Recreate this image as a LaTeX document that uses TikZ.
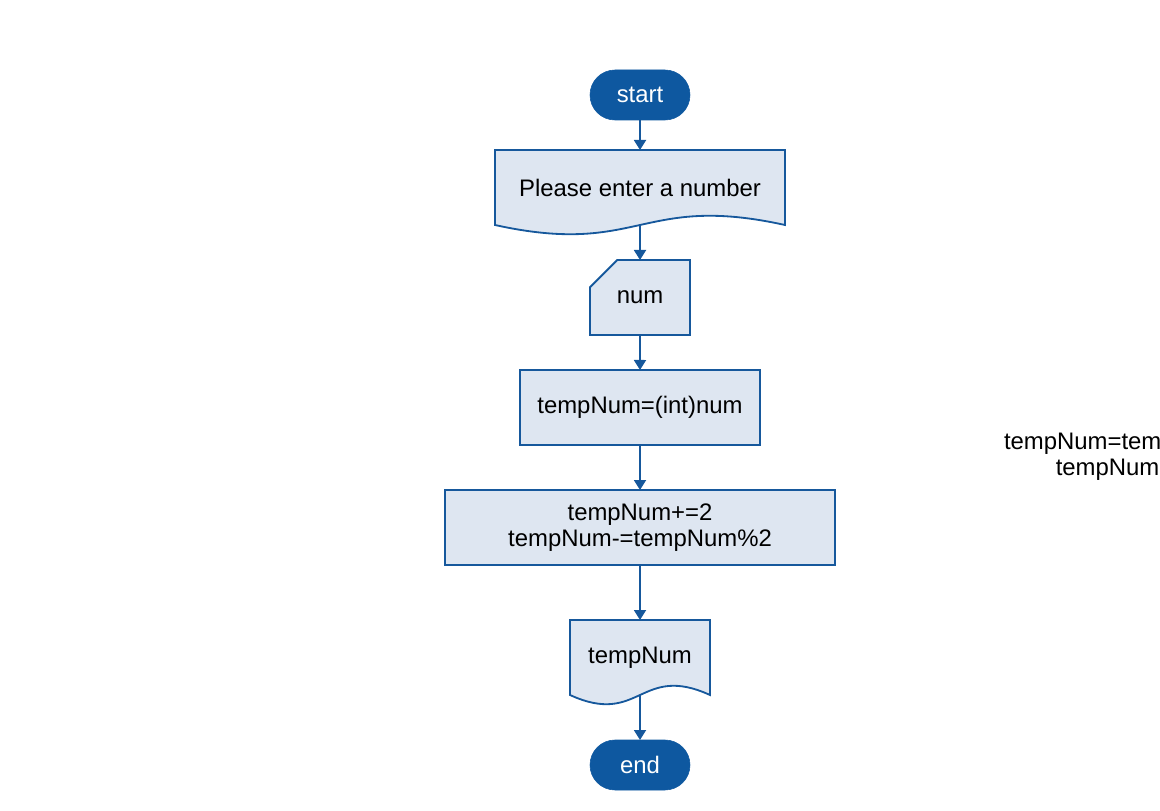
\documentclass[tikz,border=0pt]{standalone}
\usepackage{fontspec}
\setmainfont{Liberation Sans}
\usetikzlibrary{arrows.meta,positioning,calc,shapes.misc,backgrounds}
\definecolor{edge}{RGB}{22,88,156}
\definecolor{pale}{RGB}{222,230,241}
\definecolor{deep}{RGB}{14,88,160}

% outline of a document symbol (wavy lower edge) round a node
\newcommand\wavebox[1]{%
  \draw[edge,line width=1.3pt,fill=pale] (#1.north west) -- (#1.north east) -- (#1.south east)
    .. controls ($(#1.south)+(0,0.8)$) and ($(#1.south)+(0,-0.8)$) .. (#1.south west) -- cycle;}

\begin{document}
\begin{tikzpicture}[
  font=\fontsize{17}{18.5}\selectfont,
  outer sep=0pt,
  terminal/.style={rectangle,rounded corners=6.25mm,draw=deep,fill=deep,text=white,minimum width=2.5cm,minimum height=1.25cm},
  docbox/.style={rectangle,align=center,minimum height=1.875cm},
  card/.style={chamfered rectangle,chamfered rectangle corners=north west,chamfered rectangle xsep=5mm,chamfered rectangle ysep=4mm,draw=edge,line width=1.3pt,fill=pale,minimum width=2.5cm,minimum height=1.875cm},
  process/.style={rectangle,draw=edge,line width=1.3pt,fill=pale,align=center,minimum height=1.875cm},
  arrow/.style={-{Triangle[width=3mm,length=2.5mm]},draw=edge,line width=1.3pt}
]
\useasboundingbox (0,0) rectangle (29,20.25);
\node[terminal] (start) at (16,17.875) {start};
\node[docbox,minimum width=7.25cm,below=0.75cm of start] (prompt) {Please enter a number};
\node[card,below=0.875cm of prompt] (num) {num};
\node[process,minimum width=6cm,below=0.875cm of num] (conv) {tempNum=(int)num};
\node[process,minimum width=9.75cm,below=1.125cm of conv] (adjust) {tempNum+=2\\tempNum-=tempNum\%2};
\node[docbox,minimum width=3.5cm,below=1.375cm of adjust] (out) {tempNum};
\node[terminal,below=1.125cm of out] (stop) {end};
\node[anchor=west,align=center,inner sep=0pt] (note) at (25.1,8.84) {tempNum=tempNum+2-tempNum\%2\\tempNum+=2-tempNum\%2};
\begin{scope}[on background layer]
  \wavebox{prompt}
  \wavebox{out}
\end{scope}
\draw[arrow] (start) -- (prompt);
\draw[arrow] (prompt) -- (num);
\draw[arrow] (num) -- (conv);
\draw[arrow] (conv) -- (adjust);
\draw[arrow] (adjust) -- (out);
\draw[arrow] (out) -- (stop);
\end{tikzpicture}
\end{document}
